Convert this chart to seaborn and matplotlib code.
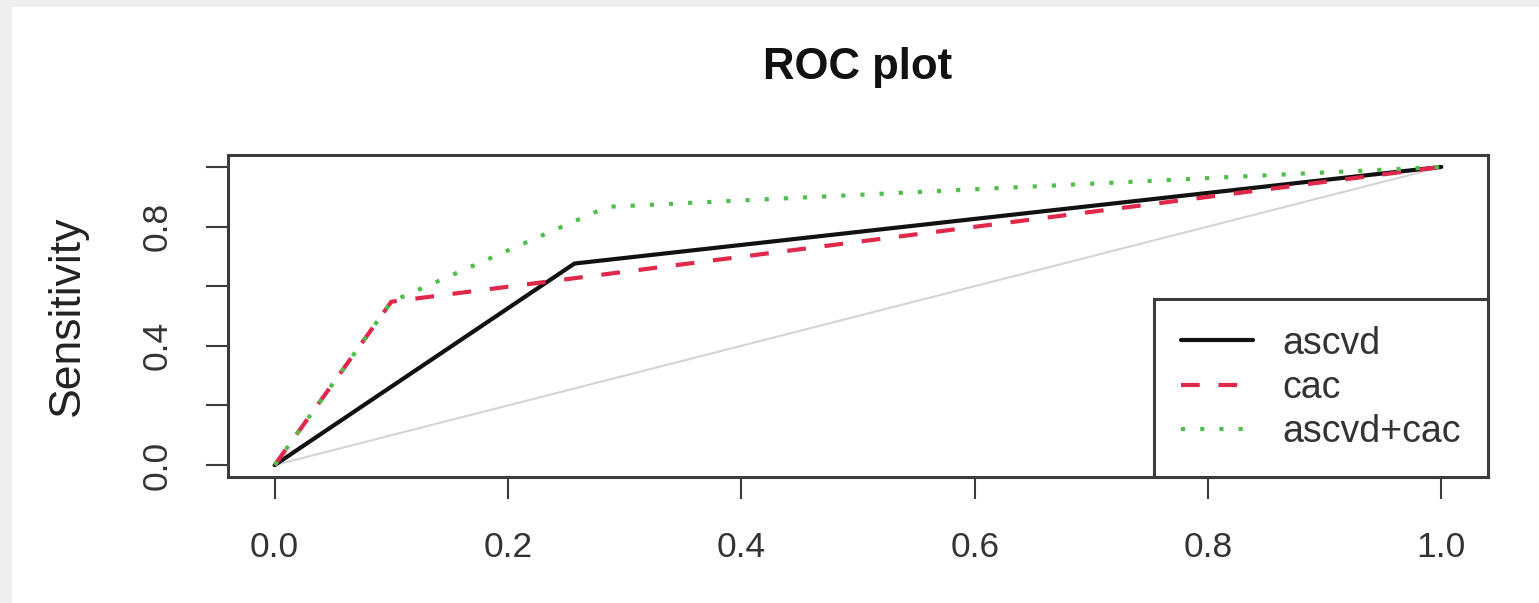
import numpy as np
import pandas as pd
import matplotlib
matplotlib.use("Agg")
import matplotlib.pyplot as plt
import seaborn as sns
from matplotlib.patches import Rectangle

# ---- data ----
ascvd_fpr = [0.0, 0.257, 1.0]
ascvd_tpr = [0.0, 0.676, 1.0]
cac_fpr = [0.0, 0.100, 1.0]
cac_tpr = [0.0, 0.548, 1.0]
combo_fpr = [0.0, 0.100, 0.285, 1.0]
combo_tpr = [0.0, 0.548, 0.866, 1.0]
diag = [0.0, 1.0]
series_names = ["ascvd", "cac", "ascvd+cac"]
x_ticks = [0.0, 0.2, 0.4, 0.6, 0.8, 1.0]
x_ticklabels = ["0.0", "0.2", "0.4", "0.6", "0.8", "1.0"]
y_ticks = [0.0, 0.2, 0.4, 0.6, 0.8, 1.0]
y_ticklabels = ["0.0", "", "0.4", "", "0.8", ""]

sns.set_theme(style="white")
plt.rcParams["font.family"] = ["Liberation Sans", "DejaVu Sans"]

W, H = 1539, 603
fig = plt.figure(figsize=(W / 100, H / 100), dpi=100)
fig.patch.set_facecolor("#efefef")
bg = Rectangle((12 / W, 0), 1 - 12 / W, 1 - 7 / H, transform=fig.transFigure,
               facecolor="white", edgecolor="none", zorder=-10)
fig.patches.append(bg)

ax = fig.add_axes([228 / W, 1 - 477 / H, (1488 - 228) / W, (477 - 155) / H])
ax.set_zorder(1)
ax.set_facecolor("white")

df_diag = pd.DataFrame({"x": diag, "y": diag})
sns.lineplot(data=df_diag, x="x", y="y", ax=ax, color="#d4d4d4", linewidth=1.5,
             sort=False, estimator=None)

lw = 3.0
df_a = pd.DataFrame({"fpr": ascvd_fpr, "tpr": ascvd_tpr})
df_c = pd.DataFrame({"fpr": cac_fpr, "tpr": cac_tpr})
df_ac = pd.DataFrame({"fpr": combo_fpr, "tpr": combo_tpr})

sns.lineplot(data=df_a, x="fpr", y="tpr", ax=ax, color="#111111", linewidth=lw,
             sort=False, estimator=None, label=series_names[0])
sns.lineplot(data=df_c, x="fpr", y="tpr", ax=ax, color="#E0284A", linewidth=lw,
             linestyle=(0, (4.5, 4.5)), sort=False, estimator=None, label=series_names[1])
sns.lineplot(data=df_ac, x="fpr", y="tpr", ax=ax, color="#4FBF4C", linewidth=lw,
             linestyle=(0, (1, 3.6)), sort=False, estimator=None, label=series_names[2])

ax.set_xlim(-0.04, 1.04)
ax.set_ylim(-0.04, 1.04)

frame_c = "#3c3c3c"
for s in ax.spines.values():
    s.set_visible(True)
    s.set_color(frame_c)
    s.set_linewidth(2.2)

ax.set_xticks(x_ticks)
ax.set_xticklabels(x_ticklabels)
ax.set_yticks(y_ticks)
ax.set_yticklabels(y_ticklabels, rotation=90, va="center")
ax.tick_params(axis="both", which="major", direction="out", length=16, width=1.5,
               color=frame_c, labelsize=25.5, labelcolor="#333333", pad=23,
               bottom=True, left=True)

ax.set_xlabel("")
ax.set_ylabel("Sensitivity", fontsize=32, color="#222222")
ax.yaxis.set_label_coords((88 - 228) / (1488 - 228), 0.5)

fig.text((228 + 1488) / 2 / W, 1 - 68 / H, "ROC plot", ha="center", va="center",
         fontsize=31.5, fontweight="bold", color="#111111")

leg = ax.legend(loc="lower right", bbox_to_anchor=(1.0, 0.0), borderaxespad=0,
                fontsize=27, frameon=True, fancybox=False, framealpha=1,
                edgecolor=frame_c, handlelength=1.9, handletextpad=0.8,
                labelspacing=0.22, borderpad=0.72)
leg.get_frame().set_linewidth(2.2)
for t in leg.get_texts():
    t.set_color("#333333")

fig.savefig("out.png", dpi=100, facecolor=fig.get_facecolor())
